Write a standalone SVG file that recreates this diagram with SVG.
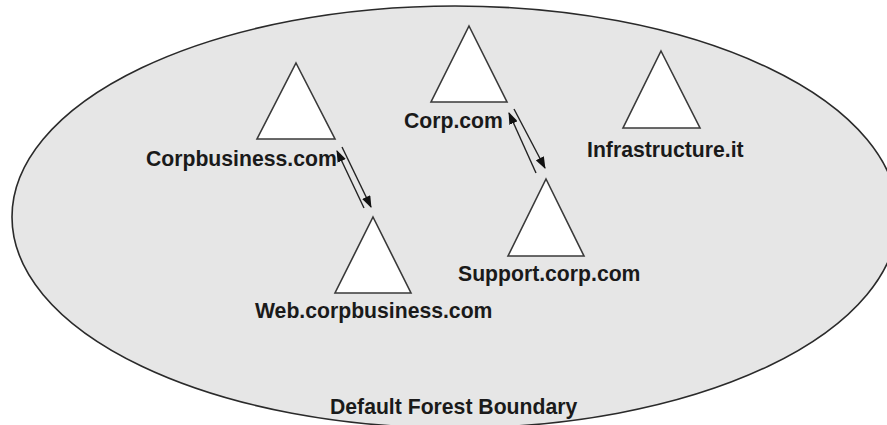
<svg xmlns="http://www.w3.org/2000/svg" width="887" height="425" viewBox="0 0 887 425">
<style>
.tri{fill:#fff;stroke:#3a3a3a;stroke-width:1.6;stroke-linejoin:miter}
.lbl{font-family:"Liberation Sans",Arial,sans-serif;font-weight:bold;font-size:21.2px;fill:#1a1a1a}
.con{stroke:#222;stroke-width:1.4;fill:none}
</style>
<defs>
<marker id="ah" markerUnits="userSpaceOnUse" markerWidth="12" markerHeight="9" refX="11" refY="4.5" orient="auto">
<path d="M0,0 L12,4.5 L0,9 z" fill="#111"/>
</marker>
</defs>
<rect width="887" height="425" fill="#fff"/>
<g id="forest">
<ellipse cx="455" cy="217" rx="443" ry="211" fill="#e6e6e6" stroke="#2a2a2a" stroke-width="1.6"/>
<text class="lbl" x="330" y="414">Default Forest Boundary</text>
</g>
<g id="corpbusiness">
<polygon class="tri" points="296,63 335,139 257,139"/>
<text class="lbl" x="146" y="166">Corpbusiness.com</text>
</g>
<g id="corp">
<polygon class="tri" points="469,26 507,102 431,102"/>
<text class="lbl" x="404" y="128">Corp.com</text>
</g>
<g id="infrastructure">
<polygon class="tri" points="661,51 700,128 623,128"/>
<text class="lbl" x="587" y="157">Infrastructure.it</text>
</g>
<g id="support">
<polygon class="tri" points="546,179 584,256 508,256"/>
<text class="lbl" x="458" y="281">Support.corp.com</text>
</g>
<g id="web">
<polygon class="tri" points="373,217 411,293 335,293"/>
<text class="lbl" x="255" y="318">Web.corpbusiness.com</text>
</g>
<g id="connectors">
<line class="con" x1="364" y1="208" x2="337" y2="151" marker-end="url(#ah)"/>
<line class="con" x1="342" y1="147" x2="371" y2="207" marker-end="url(#ah)"/>
<line class="con" x1="536" y1="173" x2="509" y2="113" marker-end="url(#ah)"/>
<line class="con" x1="514" y1="109" x2="545" y2="168" marker-end="url(#ah)"/>
</g>
</svg>
